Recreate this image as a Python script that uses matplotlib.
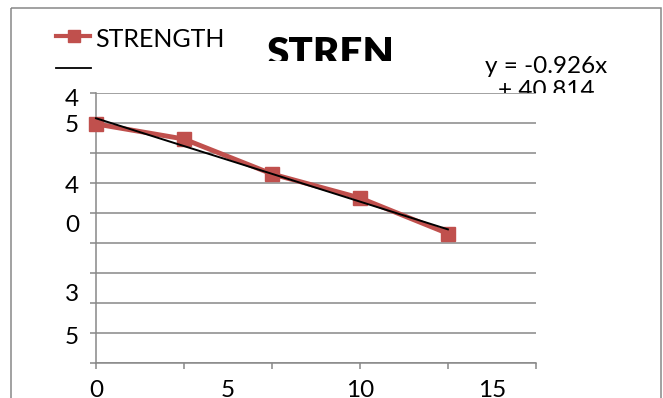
import numpy as np
import matplotlib
matplotlib.use('Agg')
import matplotlib.pyplot as plt
from matplotlib.patches import Rectangle
from matplotlib.transforms import Bbox

plt.rcParams['font.family'] = ['Lato', 'DejaVu Sans']

# strength readings
x = [0, 3.33, 6.67, 10, 13.33]
strength = [40.18, 38.51, 34.62, 31.96, 28.01]
# linear trend line
slope = -0.926
intercept = 40.814

xlabels = [0, 5, 10, 15]
ylabels = ['45', '40', '35']
series_name = 'STRENGTH'
title = 'STREN'

red = '#C0504D'
grey = '#888888'
W, H = 663, 398

fig = plt.figure(figsize=(W / 100, H / 100), dpi=100)

# pixel canvas behind the plot for the frame, legend and loose text
bg = fig.add_axes([0, 0, 1, 1], zorder=0)
bg.set_xlim(0, W)
bg.set_ylim(H, 0)
bg.axis('off')
bg.add_patch(Rectangle((10.5, 7.5), 650.5, 430, fill=False, ec=grey, lw=1.1, clip_on=False))

# legend
bg.plot([56, 90], [35.5, 35.5], color=red, lw=3)
bg.plot([73.5], [35.5], 's', color=red, ms=8)
bg.text(95, 39.5, series_name, va='center', ha='left', fontsize=18)
bg.plot([56, 91], [68.3, 68.3], color='black', lw=1.3)

# title, cut off below
t = bg.text(266, 36, title, fontsize=29, fontweight='heavy', va='top', ha='left', clip_on=True)
t.set_clip_box(Bbox.from_extents(0, H - 61, W, H))

# trend equation, cut off by the plot area
eq = bg.text(546, 56, f'y = {slope}x\n+ {intercept}', fontsize=17.5, ha='center', va='top',
             multialignment='center', linespacing=1.15, clip_on=True)
eq.set_clip_box(Bbox.from_extents(0, H - 93.3, W, H))

# wrapped y labels, one digit per line
ypix = [[99.7, 125], [186.3, 226], [294.7, 337]]
for lab, ys in zip(ylabels, ypix):
    for ch, yy in zip(lab, ys):
        bg.text(79, yy, ch, fontsize=17.5, ha='right', va='center')

ax = fig.add_axes([96 / W, 1 - 363.3 / H, 440 / W, 270 / H], zorder=1)
ax.set_facecolor('white')
ax.set_xlim(0, 50 / 3)
ax.set_ylim(13.59, 43.59)

ax.xaxis.remove_overlapping_locs = False
ax.set_xticks(np.arange(6) * 10 / 3)
ax.set_xticklabels([])
ax.set_xticks(xlabels, minor=True)
ax.set_xticklabels([str(v) for v in xlabels], minor=True)
ax.tick_params(axis='x', which='major', length=4, width=1.1, color=grey, direction='out')
ax.tick_params(axis='x', which='minor', length=0, pad=12, labelsize=17.5)

ax.set_yticks(np.linspace(13.59, 43.59, 10))
ax.tick_params(axis='y', length=4.5, width=1.1, color=grey, labelleft=False)
ax.grid(axis='y', color=grey, lw=1.1)
ax.set_axisbelow(True)
for s in ['top', 'right']:
    ax.spines[s].set_visible(False)
for s in ['left', 'bottom']:
    ax.spines[s].set_color(grey)
    ax.spines[s].set_linewidth(1.1)

ax.plot(x, strength, color=red, lw=3.5, marker='s', ms=10, zorder=3, clip_on=False)
xt = np.array([x[0], x[-1]])
ax.plot(xt, slope * xt + intercept, color='black', lw=1.4, zorder=4, clip_on=False)

plt.savefig('out.png', dpi=100)
